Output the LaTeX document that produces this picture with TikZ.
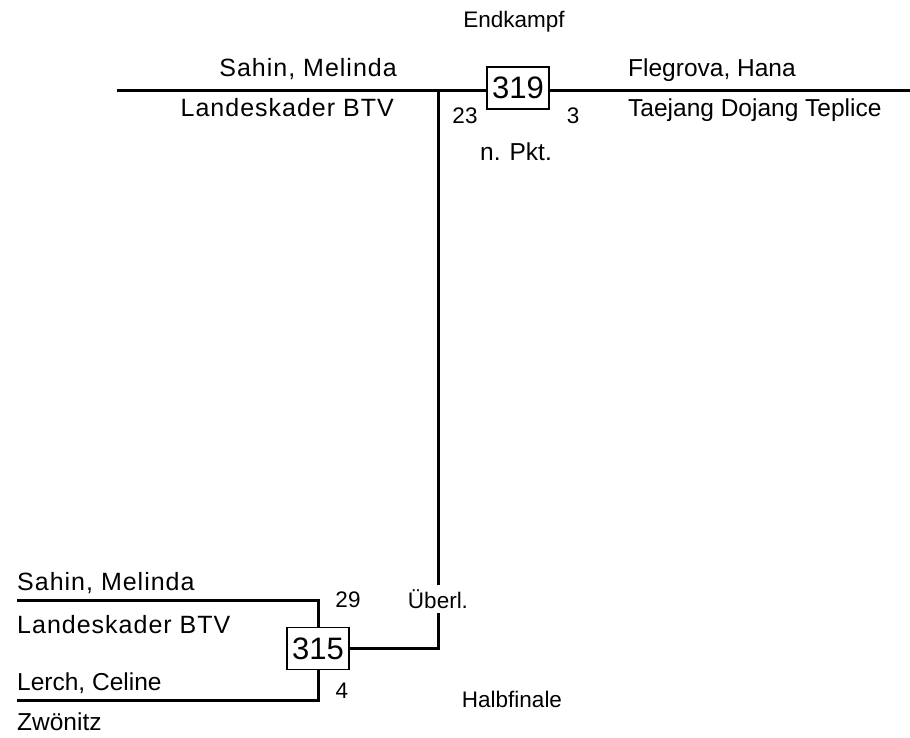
\documentclass[tikz,border=0pt]{standalone}
\usepackage{fontspec}
\setmainfont{Liberation Sans}
\newfontfamily\widefont[LetterSpace=4]{Liberation Sans}
\usetikzlibrary{positioning}
\tikzset{>=stealth}
\tikzset{
  thickline/.style={line width=3pt},
  matchbox/.style={draw, line width=1.5pt, fill=white, minimum width=62pt, minimum height=42pt, inner sep=0pt, font=\fontsize{31}{32}\selectfont},
  widetext/.style={inner sep=0pt, font=\widefont\fontsize{25}{28}\selectfont},
  nametext/.style={inner sep=0pt, font=\fontsize{24.5}{28}\selectfont},
  labeltext/.style={inner sep=0pt, font=\fontsize{22.5}{25}\selectfont},
}

\begin{document}
\begin{tikzpicture}[x=1pt, y=-1pt]
\useasboundingbox (0,0) rectangle (910,737);

\node[labeltext, anchor=base] (final) at (514,27) {Endkampf};
\node[labeltext, anchor=base] (semi) at (512,707) {Halbfinale};

\coordinate (topleft) at (117,90);
\coordinate (topright) at (910,90);
\coordinate (joint) at (438,90);
\draw[thickline] (topleft) -- (topright);
\node[matchbox] (m319) at (518,88) {319};

\node[widetext, anchor=base east] (redname) at (397,76) {Sahin, Melinda};
\node[widetext, anchor=base east] (redclub) at (394,116) {Landeskader BTV};
\node[nametext, anchor=base west] (bluename) at (628,76) {Flegrova, Hana};
\node[nametext, anchor=base west] (blueclub) at (628,116) {Taejang Dojang Teplice};
\node[labeltext, anchor=base] (redscore) at (465,123) {23};
\node[labeltext, anchor=base] (bluescore) at (573,123) {3};
\node[nametext, anchor=base] (decision) at (516,160) {n. Pkt.};

\node[matchbox] (m315) at (318,648.5) {315};
\coordinate (semitop) at (17,600.5);
\coordinate (semibottom) at (17,700);
\draw[thickline] (semitop) -| (m315.north);
\draw[thickline] (semibottom) -| (m315.south);

\node[widetext, anchor=base west] (seminame1) at (17,590.5) {Sahin, Melinda};
\node[widetext, anchor=base west] (semiclub1) at (17,633) {Landeskader BTV};
\node[nametext, anchor=base west] (seminame2) at (17,690.5) {Lerch, Celine};
\node[nametext, anchor=base west] (semiclub2) at (17,730) {Zwönitz};
\node[labeltext, anchor=base] (semiscore1) at (348,607) {29};
\node[labeltext, anchor=base] (semiscore2) at (342,698) {4};

\node[labeltext, minimum height=28pt] (ueberl) at (438,599) {Überl.};
\draw[thickline] (joint) -- (ueberl.north);
\draw[thickline] (m315.east) -| (ueberl.south);
\end{tikzpicture}
\end{document}
